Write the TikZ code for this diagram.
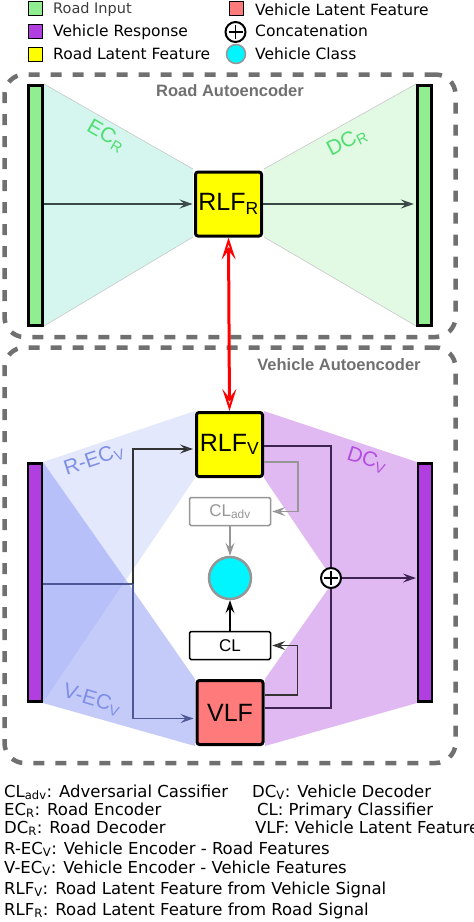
\documentclass[tikz,border=0pt]{standalone}
\usepackage{fontspec}
\setmainfont{DejaVu Sans}
\newfontfamily\arialf{Liberation Sans}
\usetikzlibrary{arrows.meta,calc}
\definecolor{roadgreen}{RGB}{144,238,144}
\definecolor{vpurple}{RGB}{177,62,223}
\definecolor{latyellow}{RGB}{255,255,0}
\definecolor{vlfred}{RGB}{255,123,123}
\definecolor{vcyan}{RGB}{0,245,255}
\definecolor{ecrfill}{RGB}{212,246,239}
\definecolor{dcrfill}{RGB}{226,249,228}
\definecolor{dcvfill}{RGB}{224,185,242}
\definecolor{ronly}{RGB}{227,232,252}
\definecolor{vonly}{RGB}{196,203,249}
\definecolor{rvover}{RGB}{183,192,249}
\definecolor{framegray}{RGB}{112,112,112}
\definecolor{lblgreen}{RGB}{80,222,112}
\definecolor{lblblue}{RGB}{127,143,230}
\definecolor{lblpurple}{RGB}{180,78,224}
\definecolor{lineroad}{RGB}{58,72,72}
\definecolor{linedark}{RGB}{51,51,51}
\definecolor{lineblue}{RGB}{78,88,150}
\definecolor{linepurple}{RGB}{62,34,82}
\definecolor{linegray}{RGB}{150,150,150}
\begin{document}
\begin{tikzpicture}[x=1pt,y=-1pt,
  bar/.style={draw=black, line width=2.5pt, minimum width=14pt, minimum height=240pt, inner sep=0pt},
  latbox/.style={draw=black, line width=3pt, rounded corners=2.5pt, minimum width=66pt, minimum height=64pt, inner sep=0pt, font=\arialf\fontsize{25}{25}\selectfont},
  clbox/.style={draw, line width=1.5pt, rounded corners=1.5pt, minimum width=81pt, minimum height=28pt, inner sep=0pt, font=\arialf\fontsize{17}{17}\selectfont},
  frame/.style={draw=framegray, line width=4.5pt, dash pattern=on 11pt off 11pt, rounded corners=20pt, inner sep=0pt},
  framelbl/.style={text=framegray, font=\arialf\bfseries\fontsize{16.5}{16.5}\selectfont},
  arealbl/.style={font=\arialf\fontsize{21}{21}\selectfont, inner sep=0pt},
  tip/.style={-{Stealth[open, length=13pt, width=9pt, inset=5pt, line width=1.5pt]}},
  conn/.style={line width=1.5pt, tip},
  legsq/.style={draw=black, line width=1.5pt, minimum width=14pt, minimum height=14pt, inner sep=0pt},
  legtxt/.style={anchor=base west, inner sep=0pt, font=\fontsize{15.5}{16}\selectfont},
  keytxt/.style={anchor=base west, inner sep=0pt, font=\fontsize{16.5}{18}\selectfont},
  plus/.style={circle, draw=black, fill=white, line width=2pt, minimum size=20pt, inner sep=0pt}
]
\useasboundingbox (0,0) rectangle (474,922);

% ---------- legend ----------
\node[legsq, fill=roadgreen] (lg1) at (35.5,8.5) {};
\node[legsq, fill=vpurple] (lg2) at (35.5,31.5) {};
\node[legsq, fill=latyellow] (lg3) at (35.5,54.5) {};
\node[legtxt, text={rgb,255:red,60;green,60;blue,60}, font=\fontsize{14.5}{15}\selectfont] (lt1) at (53,13) {Road Input};
\node[legtxt] (lt2) at (53,36) {Vehicle Response};
\node[legtxt] (lt3) at (53,59.5) {Road Latent Feature};
\node[legsq, fill=vlfred] (lg4) at (236.5,8.5) {};
\node[plus] (lg5) at (235.5,32) {};
\draw[line width=1.5pt] ($(lg5.center)+(-7,0)$) -- ($(lg5.center)+(7,0)$);
\draw[line width=1.5pt] ($(lg5.center)+(0,-7)$) -- ($(lg5.center)+(0,7)$);
\node[circle, draw=linegray, fill=vcyan, line width=1.5pt, minimum size=19pt, inner sep=0pt] (lg6) at (236,54) {};
\node[legtxt] (lt4) at (255,15) {Vehicle Latent Feature};
\node[legtxt] (lt5) at (255,36) {Concatenation};
\node[legtxt] (lt6) at (255,59.5) {Vehicle Class};

% ---------- road autoencoder fills ----------
\fill[ecrfill] (44,84) -- (193,169) -- (193,237) -- (44,326) -- cycle;
\fill[dcrfill] (264,169) -- (416,84) -- (416,326) -- (264,237) -- cycle;
\draw[line width=0.6pt, draw={rgb,255:red,200;green,200;blue,200}] (44,84) -- (193,169) (193,237) -- (44,326);
\draw[line width=0.6pt, draw={rgb,255:red,200;green,200;blue,200}] (264,169) -- (416,84) (416,326) -- (264,237);

% ---------- vehicle autoencoder fills ----------
\fill[ronly] (43,462) -- (195,411) -- (195,478) -- (126,580) -- cycle;
\fill[vonly] (126,580) -- (195,679) -- (195,746) -- (43,703) -- cycle;
\fill[rvover] (43,462) -- (126,580) -- (43,703) -- cycle;
\fill[dcvfill] (264,411) -- (417,462) -- (417,703) -- (264,478) -- cycle;
\fill[dcvfill] (417,462) -- (265,679) -- (265,746) -- (417,703) -- cycle;

% ---------- frames ----------
\node[frame, minimum width=451pt, minimum height=262.5pt] (roadframe) at (230,205.75) {};
\node[frame, minimum width=451pt, minimum height=415.5pt] (vehframe) at (230,555.25) {};
\node[framelbl] (roadlbl) at (230,91) {Road Autoencoder};
\node[framelbl] (vehlbl) at (339,365) {Vehicle Autoencoder};

% ---------- area labels ----------
\node[arealbl, text=lblgreen, rotate=-30] (ecr) at (106,136) {EC\textsubscript{R}};
\node[arealbl, text=lblgreen, rotate=27] (dcr) at (347,142) {DC\textsubscript{R}};
\node[arealbl, text=lblblue, rotate=18.5] (recv) at (94,460) {R-EC\textsubscript{V}};
\node[arealbl, text=lblpurple, rotate=-18.5] (dcv) at (367,460) {DC\textsubscript{V}};
\node[arealbl, text=lblblue, rotate=-17] (vecv) at (92,700) {V-EC\textsubscript{V}};

% ---------- road nodes ----------
\node[bar, fill=roadgreen] (rbarL) at (35.6,205.5) {};
\node[bar, fill=roadgreen] (rbarR) at (424.6,205.5) {};
\node[latbox, fill=latyellow] (RLFR) at (228.5,204) {RLF\textsubscript{R}};

% ---------- vehicle nodes ----------
\node[bar, fill=vpurple, minimum height=238pt] (vbarL) at (35.2,582.5) {};
\node[bar, fill=vpurple, minimum height=238pt] (vbarR) at (425.2,582.5) {};
\node[latbox, fill=latyellow] (RLFV) at (229.5,444.5) {RLF\textsubscript{V}};
\node[latbox, fill=vlfred] (VLF) at (230,712.5) {VLF};
\node[clbox, draw=linegray, text=linegray] (CLadv) at (230,511.5) {CL\textsubscript{adv}};
\node[clbox, draw=black] (CL) at (230,645.5) {CL};
\node[circle, draw=linegray, fill=vcyan, line width=2.5pt, minimum size=42pt, inner sep=0pt] (cls) at (230,578) {};
\node[plus] (cat) at (331,578) {};
\draw[line width=1.5pt] ($(cat.center)+(-7,0)$) -- ($(cat.center)+(7,0)$);
\draw[line width=1.5pt] ($(cat.center)+(0,-7)$) -- ($(cat.center)+(0,7)$);

% ---------- road connectors ----------
\draw[conn, draw=lineroad, shorten >=1.5pt] (rbarL.east |- RLFR.west) -- (RLFR.west);
\draw[conn, draw=lineroad, shorten >=2.5pt] (RLFR.east) -- (rbarR.west |- RLFR.east);
\draw[line width=3pt, draw=red, {Stealth[open, length=22pt, width=14pt, inset=9pt, line width=2pt]}-{Stealth[open, length=22pt, width=14pt, inset=9pt, line width=2pt]}] (RLFR.south) -- (RLFV.north);

% ---------- vehicle connectors ----------
\coordinate (J) at (133,584);
\coordinate (rin) at ($(RLFV.west)+(0,4.5)$);
\coordinate (vin) at ($(VLF.west)+(0,6)$);
\draw[line width=1.5pt, draw=lineblue] (vbarL.east |- J) -- (J);
\draw[conn, draw=linedark, shorten >=2pt] (J) |- (rin);
\draw[conn, draw=lineblue, shorten >=2pt] (J) |- (vin);
\draw[line width=1.5pt, draw=linepurple] ($(RLFV.east)+(0,1.5)$) -| (cat.north);
\draw[line width=1.5pt, draw=linepurple] ($(VLF.east)+(0,-4.5)$) -| (cat.south);
\draw[conn, draw=linepurple, shorten >=1pt] (cat.east) -- (vbarR.west |- cat.east);
\draw[conn, draw=linedark, shorten >=1pt] ($(VLF.east)+(0,-17.5)$) -- ++(33,0) |- (CL.east);
\draw[conn, draw=linegray, shorten >=1pt] ($(RLFV.east)+(0,17.5)$) -- ++(34,0) |- (CLadv.east);
\draw[conn, draw=linegray] (CLadv.south) -- (cls.north);
\draw[conn, draw=black] (CL.north) -- (cls.south);

% ---------- key ----------
\node[keytxt] (k1) at (4,797) {CL\textsubscript{adv}: Adversarial Cassifier};
\node[keytxt] (k2) at (4,815) {EC\textsubscript{R}: Road Encoder};
\node[keytxt] (k3) at (4,833) {DC\textsubscript{R}: Road Decoder};
\node[keytxt] (k4) at (4,854) {R-EC\textsubscript{V}: Vehicle Encoder - Road Features};
\node[keytxt] (k5) at (4,873) {V-EC\textsubscript{V}: Vehicle Encoder - Vehicle Features};
\node[keytxt] (k6) at (4,894) {RLF\textsubscript{V}: Road Latent Feature from Vehicle Signal};
\node[keytxt] (k7) at (4,915) {RLF\textsubscript{R}: Road Latent Feature from Road Signal};
\node[keytxt] (k8) at (252,797) {DC\textsubscript{V}: Vehicle Decoder};
\node[keytxt] (k9) at (257,815) {CL: Primary Classifier};
\node[keytxt] (k10) at (255,833) {VLF: Vehicle Latent Feature};
\end{tikzpicture}
\end{document}
